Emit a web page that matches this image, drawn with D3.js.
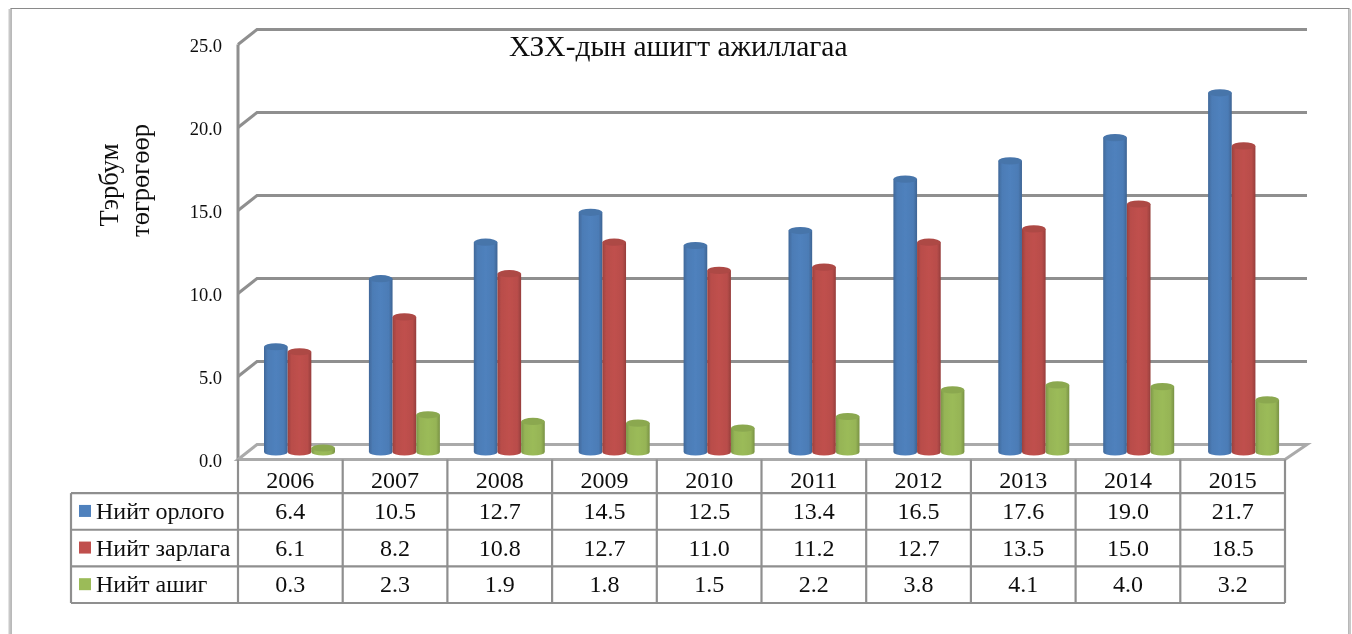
<!DOCTYPE html>
<html>
<head>
<meta charset="utf-8">
<script src="https://cdnjs.cloudflare.com/ajax/libs/d3/7.8.5/d3.min.js"></script>
<style>
	html, body { margin: 0; padding: 0; background: #fff; }
	svg { display: block; }
	text { font-family: "Liberation Serif", serif; fill: #111; }
</style>
</head>
<body>
<script>
// values
var years = ['2006', '2007', '2008', '2009', '2010', '2011', '2012', '2013', '2014', '2015'];
var seriesNames = ['Нийт орлого', 'Нийт зарлага', 'Нийт ашиг'];
var income = [6.4, 10.5, 12.7, 14.5, 12.5, 13.4, 16.5, 17.6, 19.0, 21.7];
var expense = [6.1, 8.2, 10.8, 12.7, 11.0, 11.2, 12.7, 13.5, 15.0, 18.5];
var profit = [0.3, 2.3, 1.9, 1.8, 1.5, 2.2, 3.8, 4.1, 4.0, 3.2];
var yTicks = [0, 5, 10, 15, 20, 25];
var seriesColors = ['#4f81bd', '#c0504d', '#9bbb59'];

var dim = { width: 1352, height: 634 };
var grid = '#8f8f8f';
var depth = { x: 19, y: -15 };
var allSeries = [income, expense, profit];

var svg = d3.select('body').append('svg')
	.attr('width', dim.width)
	.attr('height', dim.height);

var defs = svg.append('defs');
defs.append('filter').attr('id', 'soft')
	.append('feGaussianBlur').attr('stdDeviation', 0.5);

// horizontal shading that makes the bars look round
seriesColors.forEach(function(c, i){
	var g = defs.append('linearGradient').attr('id', 'cyl' + i);
	var stops = [[0, d3.rgb(c).darker(0.6)], [0.16, d3.rgb(c).darker(0.1)], [0.5, c],
		[0.84, d3.rgb(c).darker(0.1)], [1, d3.rgb(c).darker(0.7)]];
	stops.forEach(function(s){
		g.append('stop').attr('offset', s[0]).attr('stop-color', s[1]);
	});
});

var x = d3.scaleBand().domain(years).range([238, 1285]);
var xBar = d3.scaleBand().domain(years).range([264, 1313]);
var y = d3.scaleLinear().domain([0, 25]).range([459.5, 44.5]);
var sub = d3.scaleBand().domain(d3.range(3)).range([0, 71]);

var root = svg.append('g').attr('filter', 'url(#soft)');

// outer frame of the pasted picture
var frame = root.append('g').attr('fill', 'none');
frame.append('path').attr('d', 'M11,634V8.5H1349V634').attr('stroke', '#8a8a8a').attr('stroke-width', 1.2);
frame.append('line').attr('x1', 9.5).attr('x2', 9.5).attr('y1', 9).attr('y2', 634)
	.attr('stroke', '#c8c8c8').attr('stroke-width', 2);
frame.append('line').attr('x1', 1350).attr('x2', 1350).attr('y1', 9).attr('y2', 634)
	.attr('stroke', '#c8c8c8').attr('stroke-width', 2);

// walls and floor
var wall = root.append('g').attr('fill', 'none').attr('stroke', grid).attr('stroke-width', 3);
wall.selectAll('path.grid')
	.data(yTicks.filter(function(d){ return d > 0; }))
	.enter().append('path')
	.attr('class', 'grid')
	.attr('d', function(d){
		return 'M238,' + y(d) + 'l' + depth.x + ',' + depth.y + 'H1307';
	});
wall.append('line').attr('x1', 238).attr('x2', 238).attr('y1', y(25)).attr('y2', y(0));
wall.append('path')
	.attr('d', 'M238,' + y(0) + 'l' + depth.x + ',' + depth.y + 'H1307l-22,15Z')
	.attr('stroke', '#aaaaaa');

// tick labels come from the axis
var axis = root.append('g')
	.attr('transform', 'translate(225,0)')
	.call(d3.axisLeft(y).tickValues(yTicks).tickSize(0).tickPadding(3).tickFormat(d3.format('.1f')));
axis.select('.domain').remove();
axis.selectAll('text')
	.attr('dy', '0.36em')
	.style('font-family', '"Liberation Serif", serif')
	.style('font-size', '18.5px');

// cylinders
var baseY = 452;
var topBase = 453;
var ry = 3.6;
var groups = root.selectAll('g.year')
	.data(years)
	.enter().append('g')
	.attr('class', 'year')
	.attr('transform', function(d){ return 'translate(' + xBar(d) + ',0)'; });

allSeries.forEach(function(values, s){
	var w = sub.bandwidth();
	var bar = groups.append('g').attr('transform', 'translate(' + sub(s) + ',0)');
	var top = function(d, i){ return topBase - (y(0) - y(values[i])); };
	bar.append('path')
		.attr('fill', 'url(#cyl' + s + ')')
		.attr('d', function(d, i){
			return 'M0,' + top(d, i) + 'V' + baseY + 'A' + (w / 2) + ',' + ry + ' 0 0 0 ' + w + ',' + baseY +
				'V' + top(d, i) + 'Z';
		});
	bar.append('ellipse')
		.attr('cx', w / 2)
		.attr('cy', top)
		.attr('rx', w / 2)
		.attr('ry', ry)
		.attr('fill', d3.rgb(seriesColors[s]).darker(0.3));
});

// data table under the chart
var rowY = d3.scaleBand().domain(d3.range(4)).range([456.5, 603]);
var rowCenter = function(r){ return rowY(r) + rowY.bandwidth() / 2; };
var lines = root.append('g').attr('stroke', grid).attr('stroke-width', 2.2).attr('fill', 'none');
d3.range(1, 5).forEach(function(r){
	var yy = r === 4 ? 603 : rowY(r);
	lines.append('line').attr('x1', 71).attr('x2', 1285).attr('y1', yy).attr('y2', yy);
});
lines.append('line').attr('x1', 71).attr('x2', 71).attr('y1', rowY(1)).attr('y2', 603);
x.domain().forEach(function(d){
	lines.append('line').attr('x1', x(d)).attr('x2', x(d)).attr('y1', y(0)).attr('y2', 603);
});
lines.append('line').attr('x1', 1285).attr('x2', 1285).attr('y1', y(0)).attr('y2', 603);

var table = root.append('g').attr('font-size', 24).attr('text-anchor', 'middle');
table.selectAll('text.year')
	.data(years)
	.enter().append('text')
	.attr('class', 'year')
	.attr('x', function(d){ return x(d) + x.bandwidth() / 2; })
	.attr('y', rowCenter(0) + 13)
	.text(function(d){ return d; });

allSeries.forEach(function(values, s){
	table.selectAll('text.v' + s)
		.data(values)
		.enter().append('text')
		.attr('class', 'v' + s)
		.attr('x', function(d, i){ return x(years[i]) + x.bandwidth() / 2; })
		.attr('y', rowCenter(s + 1) + 7.5)
		.text(function(d){ return d.toFixed(1); });

	root.append('rect')
		.attr('x', 79).attr('y', rowCenter(s + 1) - 6.5)
		.attr('width', 12).attr('height', 12)
		.attr('fill', seriesColors[s]);
	root.append('text')
		.attr('x', 96).attr('y', rowCenter(s + 1) + 7.5)
		.attr('font-size', 24)
		.text(seriesNames[s]);
});

// title and axis caption
root.append('text')
	.attr('x', 509).attr('y', 55.5)
	.attr('font-size', 29.5)
	.text('ХЗХ-дын ашигт ажиллагаа');

var caption = root.append('g').attr('font-size', 26.5).attr('text-anchor', 'middle');
caption.append('text').attr('transform', 'translate(118,185) rotate(-90)').text('Тэрбум');
caption.append('text').attr('transform', 'translate(148.5,180.5) rotate(-90)').text('төгрөгөөр');
</script>
</body>
</html>
